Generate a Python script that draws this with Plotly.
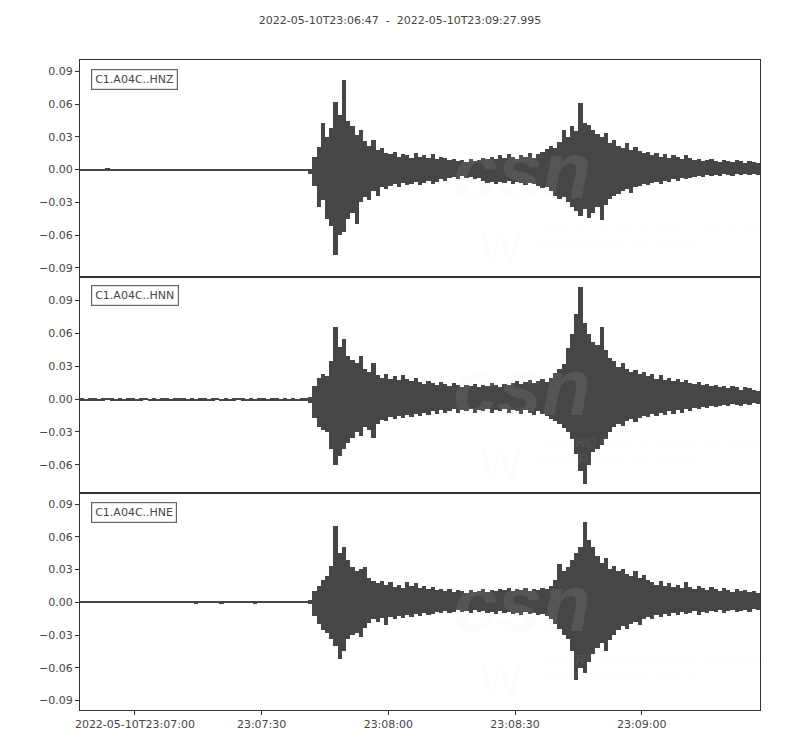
import pandas as pd
import plotly.graph_objects as go
from plotly.subplots import make_subplots

start = pd.Timestamp('2022-05-10 23:06:47')
end = pd.Timestamp('2022-05-10 23:09:27.995')
seconds = list(range(161))

channels = ['C1.A04C..HNZ', 'C1.A04C..HNN', 'C1.A04C..HNE']

# quiet part before the P arrival (t = 0..53 s)
pre_up = [0.0009, 0.0008, 0.0010, 0.0009, 0.0008, 0.0009, 0.0012, 0.0009, 0.0008, 0.0009,
          0.0008, 0.0010, 0.0009, 0.0008, 0.0009, 0.0010, 0.0008, 0.0009, 0.0008, 0.0010,
          0.0009, 0.0008, 0.0009, 0.0010, 0.0009, 0.0008, 0.0009, 0.0008, 0.0010, 0.0009,
          0.0008, 0.0009, 0.0010, 0.0008, 0.0009, 0.0008, 0.0009, 0.0010, 0.0009, 0.0008,
          0.0009, 0.0008, 0.0010, 0.0009, 0.0008, 0.0009, 0.0010, 0.0008, 0.0009, 0.0008,
          0.0009, 0.0008, 0.0010, 0.0009]
pre_lo = [-0.0008, -0.0009, -0.0008, -0.0010, -0.0009, -0.0008, -0.0009, -0.0010, -0.0008, -0.0009,
          -0.0009, -0.0008, -0.0010, -0.0009, -0.0008, -0.0009, -0.0008, -0.0010, -0.0009, -0.0008,
          -0.0008, -0.0009, -0.0008, -0.0010, -0.0009, -0.0008, -0.0009, -0.0010, -0.0008, -0.0009,
          -0.0009, -0.0008, -0.0009, -0.0010, -0.0008, -0.0009, -0.0008, -0.0009, -0.0010, -0.0008,
          -0.0009, -0.0010, -0.0008, -0.0009, -0.0008, -0.0009, -0.0010, -0.0009, -0.0008, -0.0009,
          -0.0008, -0.0009, -0.0010, -0.0008]

# t = 54..160 s
hnz_up = [0.001, 0.012, 0.021, 0.043, 0.030, 0.038, 0.062, 0.050, 0.082, 0.045,
          0.040, 0.032, 0.036, 0.026, 0.022, 0.027, 0.018, 0.020, 0.015, 0.014,
          0.016, 0.012, 0.014, 0.013, 0.011, 0.015, 0.012, 0.013, 0.011, 0.014,
          0.010, 0.012, 0.011, 0.009, 0.010, 0.008, 0.009, 0.007, 0.010, 0.008,
          0.009, 0.011, 0.010, 0.012, 0.010, 0.013, 0.011, 0.014, 0.012, 0.010,
          0.013, 0.012, 0.015, 0.011, 0.014, 0.016, 0.019, 0.022, 0.020, 0.025,
          0.036, 0.030, 0.040, 0.035, 0.061, 0.043, 0.041, 0.036, 0.033, 0.030,
          0.034, 0.024, 0.027, 0.022, 0.020, 0.024, 0.018, 0.021, 0.017, 0.015,
          0.016, 0.013, 0.015, 0.012, 0.014, 0.011, 0.013, 0.012, 0.010, 0.013,
          0.011, 0.009, 0.010, 0.008, 0.009, 0.010, 0.008, 0.007, 0.009, 0.008,
          0.007, 0.009, 0.008, 0.006, 0.008, 0.007, 0.006]
hnz_lo = [-0.004, -0.015, -0.034, -0.028, -0.045, -0.052, -0.078, -0.060, -0.057, -0.045,
          -0.040, -0.050, -0.030, -0.025, -0.028, -0.020, -0.024, -0.016, -0.018, -0.015,
          -0.013, -0.016, -0.012, -0.014, -0.013, -0.011, -0.014, -0.012, -0.010, -0.013,
          -0.011, -0.009, -0.010, -0.008, -0.007, -0.009, -0.006, -0.008, -0.007, -0.009,
          -0.008, -0.010, -0.012, -0.011, -0.013, -0.011, -0.012, -0.010, -0.013, -0.011,
          -0.012, -0.014, -0.012, -0.013, -0.015, -0.017, -0.016, -0.020, -0.024, -0.027,
          -0.025, -0.030, -0.034, -0.038, -0.042, -0.036, -0.044, -0.040, -0.034, -0.046,
          -0.032, -0.027, -0.024, -0.022, -0.020, -0.018, -0.021, -0.016, -0.015, -0.013,
          -0.014, -0.012, -0.011, -0.013, -0.010, -0.011, -0.009, -0.010, -0.008, -0.009,
          -0.008, -0.007, -0.006, -0.007, -0.005, -0.006, -0.005, -0.006, -0.004, -0.005,
          -0.006, -0.004, -0.005, -0.004, -0.005, -0.004, -0.005]

hnn_up = [0.002, 0.012, 0.020, 0.023, 0.021, 0.035, 0.066, 0.048, 0.055, 0.040,
          0.036, 0.033, 0.040, 0.028, 0.025, 0.033, 0.022, 0.020, 0.023, 0.019,
          0.021, 0.018, 0.022, 0.019, 0.017, 0.020, 0.016, 0.014, 0.017, 0.015,
          0.013, 0.016, 0.014, 0.012, 0.015, 0.013, 0.011, 0.013, 0.012, 0.014,
          0.011, 0.013, 0.012, 0.015, 0.013, 0.011, 0.014, 0.013, 0.015, 0.017,
          0.014, 0.016, 0.018, 0.015, 0.017, 0.019, 0.016, 0.020, 0.024, 0.028,
          0.032, 0.047, 0.060, 0.078, 0.103, 0.070, 0.060, 0.052, 0.050, 0.066,
          0.045, 0.038, 0.035, 0.030, 0.033, 0.028, 0.025, 0.027, 0.023, 0.025,
          0.021, 0.023, 0.019, 0.022, 0.018, 0.020, 0.017, 0.019, 0.016, 0.018,
          0.015, 0.014, 0.016, 0.013, 0.014, 0.012, 0.013, 0.011, 0.012, 0.010,
          0.012, 0.011, 0.009, 0.011, 0.010, 0.009, 0.008]
hnn_lo = [-0.003, -0.017, -0.025, -0.028, -0.030, -0.045, -0.060, -0.052, -0.045, -0.040,
          -0.035, -0.030, -0.033, -0.025, -0.028, -0.035, -0.022, -0.019, -0.020, -0.016,
          -0.018, -0.015, -0.017, -0.014, -0.016, -0.013, -0.015, -0.012, -0.014, -0.011,
          -0.013, -0.010, -0.012, -0.011, -0.009, -0.012, -0.010, -0.011, -0.009, -0.012,
          -0.010, -0.011, -0.009, -0.012, -0.010, -0.011, -0.009, -0.012, -0.010, -0.011,
          -0.013, -0.010, -0.012, -0.014, -0.011, -0.013, -0.015, -0.018, -0.020, -0.022,
          -0.026, -0.030, -0.036, -0.050, -0.065, -0.077, -0.060, -0.048, -0.045, -0.042,
          -0.036, -0.030, -0.025, -0.022, -0.024, -0.020, -0.018, -0.021, -0.017, -0.015,
          -0.016, -0.013, -0.015, -0.012, -0.014, -0.011, -0.013, -0.010, -0.012, -0.009,
          -0.011, -0.008, -0.009, -0.007, -0.008, -0.006, -0.007, -0.006, -0.005, -0.006,
          -0.004, -0.005, -0.006, -0.004, -0.005, -0.003, -0.004]

hne_up = [0.002, 0.010, 0.015, 0.020, 0.024, 0.033, 0.070, 0.045, 0.050, 0.038,
          0.032, 0.028, 0.030, 0.032, 0.022, 0.019, 0.017, 0.019, 0.016, 0.018,
          0.014, 0.016, 0.013, 0.018, 0.015, 0.017, 0.013, 0.015, 0.012, 0.014,
          0.011, 0.012, 0.010, 0.012, 0.009, 0.011, 0.010, 0.008, 0.011, 0.009,
          0.010, 0.012, 0.009, 0.011, 0.010, 0.012, 0.011, 0.013, 0.010, 0.012,
          0.011, 0.013, 0.010, 0.012, 0.011, 0.013, 0.012, 0.015, 0.020, 0.035,
          0.028, 0.032, 0.038, 0.045, 0.050, 0.073, 0.057, 0.050, 0.042, 0.036,
          0.040, 0.030, 0.033, 0.028, 0.030, 0.026, 0.024, 0.028, 0.022, 0.025,
          0.020, 0.018, 0.016, 0.019, 0.015, 0.017, 0.014, 0.016, 0.013, 0.018,
          0.014, 0.012, 0.015, 0.013, 0.011, 0.014, 0.012, 0.010, 0.013, 0.011,
          0.009, 0.012, 0.010, 0.011, 0.009, 0.010, 0.008]
hne_lo = [-0.002, -0.013, -0.020, -0.026, -0.028, -0.034, -0.040, -0.052, -0.045, -0.034,
          -0.030, -0.028, -0.032, -0.024, -0.019, -0.016, -0.018, -0.015, -0.021, -0.014,
          -0.016, -0.013, -0.015, -0.012, -0.014, -0.011, -0.013, -0.010, -0.012, -0.011,
          -0.009, -0.010, -0.008, -0.010, -0.009, -0.007, -0.009, -0.008, -0.010, -0.007,
          -0.009, -0.008, -0.010, -0.009, -0.011, -0.008, -0.010, -0.009, -0.011, -0.010,
          -0.012, -0.009, -0.011, -0.010, -0.012, -0.011, -0.013, -0.016, -0.020, -0.025,
          -0.030, -0.034, -0.045, -0.071, -0.060, -0.065, -0.055, -0.048, -0.042, -0.038,
          -0.045, -0.035, -0.030, -0.026, -0.022, -0.025, -0.020, -0.018, -0.021, -0.016,
          -0.014, -0.016, -0.012, -0.014, -0.011, -0.013, -0.010, -0.012, -0.009, -0.011,
          -0.010, -0.008, -0.012, -0.009, -0.010, -0.008, -0.009, -0.007, -0.010, -0.008,
          -0.007, -0.009, -0.008, -0.007, -0.009, -0.006, -0.007]

uppers = [pre_up + hnz_up, pre_up + hnn_up, pre_up + hne_up]
lowers = [pre_lo + hnz_lo, pre_lo + hnn_lo, pre_lo + hne_lo]

y_ranges = [[-0.098, 0.1004], [-0.086, 0.1117], [-0.0986, 0.0998]]
y_ticks = [[-0.09, -0.06, -0.03, 0.0, 0.03, 0.06, 0.09],
           [-0.06, -0.03, 0.0, 0.03, 0.06, 0.09],
           [-0.09, -0.06, -0.03, 0.0, 0.03, 0.06, 0.09]]

x_ticks = ['2022-05-10 23:07:00', '2022-05-10 23:07:30', '2022-05-10 23:08:00',
           '2022-05-10 23:08:30', '2022-05-10 23:09:00']
x_ticklabels = ['2022-05-10T23:07:00', '23:07:30', '23:08:00', '23:08:30', '23:09:00']

title = '2022-05-10T23:06:47\u00a0\u00a0-\u00a0\u00a02022-05-10T23:09:27.995'

ink = '#464646'
font = 'DejaVu Sans'
mark = 'rgba(225,225,225,0.10)'

fig = make_subplots(rows=3, cols=1, shared_xaxes=True, vertical_spacing=0)

for i in range(3):
    t_mid = [start + pd.Timedelta(seconds=s + 0.5) for s in seconds]
    # one column per second from the lower peak up to the upper peak
    spans = [u - l for u, l in zip(uppers[i], lowers[i])]
    fig.add_trace(go.Bar(x=t_mid, y=spans, base=lowers[i], width=1000,
                         marker=dict(color=ink, line=dict(width=0)),
                         showlegend=False, hoverinfo='skip'), row=i + 1, col=1)

    fig.update_yaxes(range=y_ranges[i], tickvals=y_ticks[i],
                     ticktext=[('%.2f' % v).replace('-', '\u2212') for v in y_ticks[i]],
                     row=i + 1, col=1)

    yref = 'y domain' if i == 0 else 'y%d domain' % (i + 1)
    xref = 'x domain' if i == 0 else 'x%d domain' % (i + 1)
    fig.add_annotation(text=channels[i], xref=xref, yref=yref, x=0.016, y=0.96,
                       xanchor='left', yanchor='top', showarrow=False,
                       font=dict(family=font, size=11, color=ink),
                       bordercolor='#666666', borderwidth=1.2, borderpad=3,
                       bgcolor='white')

    # faint CSN watermark
    fig.add_annotation(text='<b><i>csn</i></b>', xref=xref, yref=yref, x=0.545, y=0.49,
                       xanchor='left', yanchor='middle', showarrow=False,
                       font=dict(family='Liberation Sans', size=80, color=mark))
    fig.add_annotation(text='W', xref=xref, yref=yref, x=0.585, y=0.135,
                       xanchor='left', yanchor='middle', showarrow=False,
                       font=dict(family='Liberation Sans', size=44, color=mark))
    fig.add_annotation(text='<i>CENTRO SISMOLÓGICO NACIONAL</i>', xref=xref, yref=yref,
                       x=0.672, y=0.235, xanchor='left', yanchor='middle', showarrow=False,
                       font=dict(family='Liberation Sans', size=13.5, color=mark))
    fig.add_annotation(text='<i>UNIVERSIDAD DE CHILE</i>', xref=xref, yref=yref,
                       x=0.669, y=0.155, xanchor='left', yanchor='middle', showarrow=False,
                       font=dict(family='Liberation Sans', size=13.5, color=mark))

fig.update_yaxes(showgrid=False, zeroline=False, showline=True, mirror=True,
                 linecolor='#333333', linewidth=1, ticks='outside', ticklen=4,
                 tickcolor='#333333', tickfont=dict(family=font, size=11, color=ink))
fig.update_xaxes(type='date', range=[start, end], showgrid=False, zeroline=False,
                 showline=True, mirror=True, linecolor='#333333', linewidth=1,
                 ticks='outside', ticklen=4, tickcolor='#333333',
                 tickvals=x_ticks, ticktext=x_ticklabels,
                 tickfont=dict(family=font, size=11, color=ink))
fig.update_xaxes(showticklabels=False, ticks='', row=1, col=1)
fig.update_xaxes(showticklabels=False, ticks='', row=2, col=1)

fig.update_layout(
    width=800, height=750,
    margin=dict(l=72, r=48, t=52, b=48),
    paper_bgcolor='white', plot_bgcolor='white',
    barmode='overlay', bargap=0,
    title=dict(text=title, x=0.49, xref='container', xanchor='center',
               y=0.984, yref='container', yanchor='middle',
               font=dict(family=font, size=11, color=ink)),
)

fig.write_html('out.html')
